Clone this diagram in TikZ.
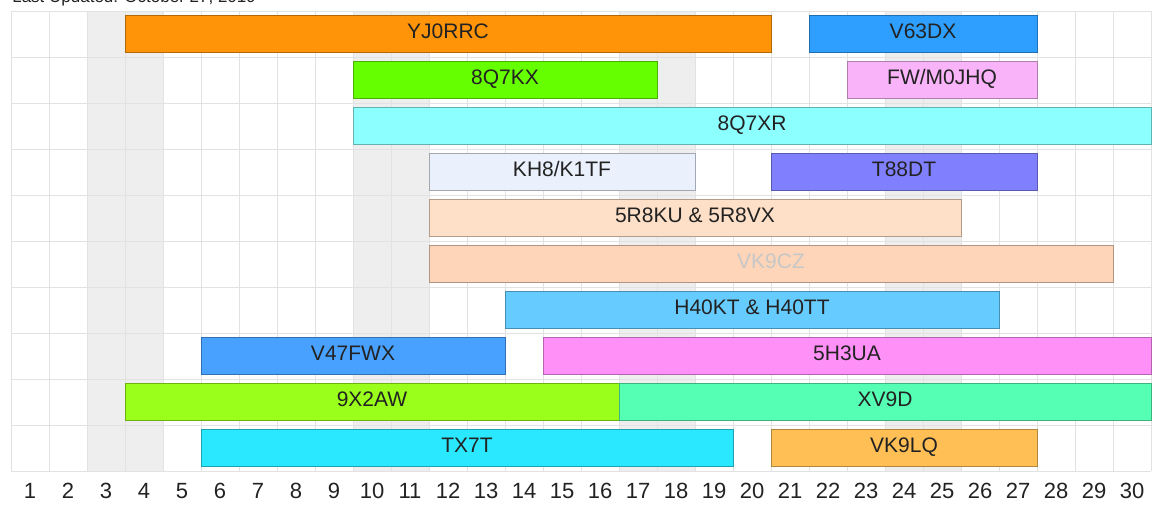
\documentclass[tikz,border=0pt]{standalone}
\usepackage{fontspec}
\setmainfont{Liberation Sans}
\usepackage{tikz}

\definecolor{gridgray}{HTML}{E2E2E2}
\definecolor{weekgray}{HTML}{EEEEEE}
\definecolor{inkgray}{HTML}{222222}
\definecolor{yjcol}{HTML}{FF9408}
\definecolor{vsixcol}{HTML}{2E9FFF}
\definecolor{kxcol}{HTML}{66FF00}
\definecolor{fwcol}{HTML}{F9B3F9}
\definecolor{xrcol}{HTML}{8CFFFF}
\definecolor{khcol}{HTML}{EAF1FD}
\definecolor{tcol}{HTML}{8080FF}
\definecolor{fivercol}{HTML}{FEE0C8}
\definecolor{czcol}{HTML}{FED5B8}
\definecolor{hcol}{HTML}{66CCFF}
\definecolor{vfourcol}{HTML}{48A1FF}
\definecolor{fivehcol}{HTML}{FF90F8}
\definecolor{ninecol}{HTML}{9AFF1A}
\definecolor{xvcol}{HTML}{55FFB4}
\definecolor{txcol}{HTML}{2AE8FF}
\definecolor{lqcol}{HTML}{FFBF55}

\tikzset{
    gridline/.style={draw=gridgray, line width=1pt},
    weekend/.style={fill=weekgray},
    bar/.style={draw=#1!70!black, fill=#1, line width=0.9pt, minimum height=37pt,
        inner sep=0pt, text=inkgray, font=\fontsize{21}{25}\selectfont,
        text height=15pt, text depth=7pt},
    daylabel/.style={text=inkgray, inner sep=0pt, font=\fontsize{22}{26}\selectfont}
}

\begin{document}
\begin{tikzpicture}[x=38pt, y=-46pt]

    \useasboundingbox (-11pt,11pt) rectangle (1142pt,-493pt);
    \clip (-11pt,11pt) rectangle (1142pt,-493pt);

    \node (updated) [anchor=base west, inner sep=0pt, text=inkgray,
        font=\fontsize{17}{20}\selectfont] at (0.03,-0.19) {Last Updated: October 27, 2019};

    % weekends
    \fill[weekend] (2,0) rectangle (4,10);
    \fill[weekend] (9,0) rectangle (11,10);
    \fill[weekend] (16,0) rectangle (18,10);
    \fill[weekend] (23,0) rectangle (25,10);

    \foreach \i in {0,...,30}
        \draw[gridline] (\i,0) -- (\i,10);
    \foreach \j in {0,...,10}
        \draw[gridline] (0,\j) -- (30,\j);

    \node (yj0rrc) [bar=yjcol, minimum width=17*38pt] at (11.5,0.5) {YJ0RRC};
    \node (v63dx) [bar=vsixcol, minimum width=6*38pt] at (24,0.5) {V63DX};

    \node (q7kx) [bar=kxcol, minimum width=8*38pt] at (13,1.5) {8Q7KX};
    \node (fwm0jhq) [bar=fwcol, minimum width=5*38pt] at (24.5,1.5) {FW/M0JHQ};

    \node (q7xr) [bar=xrcol, minimum width=21*38pt] at (19.5,2.5) {8Q7XR};

    \node (kh8) [bar=khcol, minimum width=7*38pt] at (14.5,3.5) {KH8/K1TF};
    \node (t88dt) [bar=tcol, minimum width=7*38pt] at (23.5,3.5) {T88DT};

    \node (r8ku) [bar=fivercol, minimum width=14*38pt] at (18,4.5) {5R8KU \& 5R8VX};

    \node (vk9cz) [bar=czcol, minimum width=18*38pt, text=black!22] at (20,5.5) {VK9CZ};

    \node (h40kt) [bar=hcol, minimum width=13*38pt] at (19.5,6.5) {H40KT \& H40TT};

    \node (v47fwx) [bar=vfourcol, minimum width=8*38pt] at (9,7.5) {V47FWX};
    \node (h3ua) [bar=fivehcol, minimum width=16*38pt] at (22,7.5) {5H3UA};

    \node (x2aw) [bar=ninecol, minimum width=13*38pt] at (9.5,8.5) {9X2AW};
    \node (xv9d) [bar=xvcol, minimum width=14*38pt] at (23,8.5) {XV9D};

    \node (tx7t) [bar=txcol, minimum width=14*38pt] at (12,9.5) {TX7T};
    \node (vk9lq) [bar=lqcol, minimum width=7*38pt] at (23.5,9.5) {VK9LQ};

    \foreach \d in {1,...,30}
        \node (day\d) [daylabel] at (\d-0.5,10.43) {\d};

\end{tikzpicture}
\end{document}
